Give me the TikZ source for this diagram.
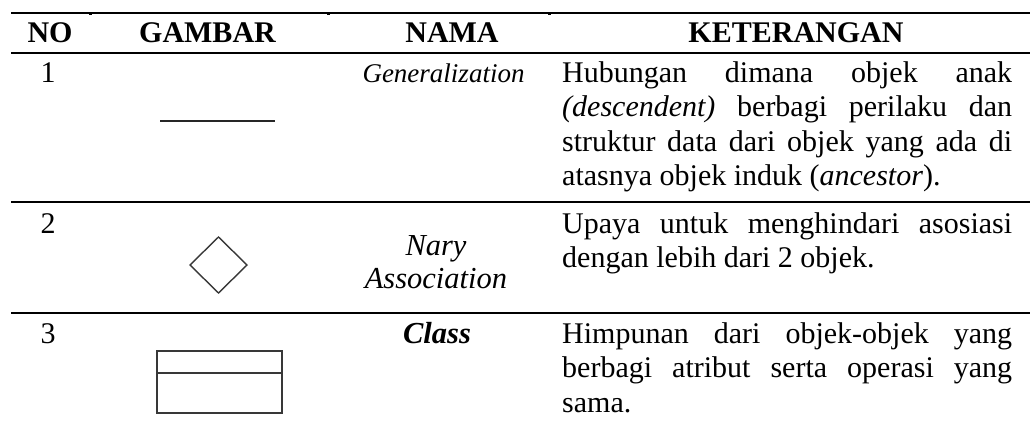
\documentclass[tikz,border=0pt]{standalone}
\usepackage{tikz}
\usepackage{fontspec}
\setmainfont{Liberation Serif}
% width of a justified description line
\newlength\jw
\setlength\jw{450pt}
\newcommand\jl[1]{\makebox[\jw][s]{#1}}
\tikzset{
  cell/.style={inner sep=0pt, font=\fontsize{30pt}{34.5pt}\selectfont, anchor=base},
  head/.style={cell, font=\fontsize{30pt}{34.5pt}\selectfont\bfseries},
  nmcell/.style={cell, font=\fontsize{30.5pt}{34.5pt}\selectfont\itshape},
  desc/.style={cell, anchor=base west, font=\fontsize{30pt}{34.5pt}\selectfont},
  rulel/.style={line width=2pt, black},
  sym/.style={draw=black!78, line width=1.4pt},
}
\begin{document}
\begin{tikzpicture}[x=1pt, y=-1pt]
\useasboundingbox (0,0) rectangle (1030,436);
\fill[white] (0,0) rectangle (1030,436);

% horizontal rules of the table
\draw[rulel] (11,13) -- (1030,13);
\draw[rulel] (11,53) -- (1030,53);
\draw[rulel] (11,202) -- (1030,202);
\draw[rulel] (11,313) -- (1030,313);
% small column marks under the top rule
\foreach \cx in {90,328,549} \fill (\cx-1.5,13) rectangle (\cx+1.5,15.5);

% header
\node[head] (hno) at (50,43) {NO};
\node[head] (hgb) at (207.5,43) {GAMBAR};
\node[head] (hnm) at (452,43) {NAMA};
\node[head] (hkt) at (796,43) {KETERANGAN};

% row 1: generalization
\node[cell] (n1) at (48,82) {1};
\draw[line width=1.6pt, black!85] (160,121) coordinate (g1) -- (275,121) coordinate (g2);
\node[nmcell, font=\fontsize{27pt}{34.5pt}\selectfont\itshape] (nm1) at (443.5,82) {Generalization};
\node[desc] (k1a) at (562,82) {\jl{Hubungan dimana objek anak}};
\node[desc] (k1b) at (562,116.5) {\jl{\textit{(descendent)} berbagi perilaku dan}};
\node[desc] (k1c) at (562,151) {\jl{struktur data dari objek yang ada di}};
\node[desc] (k1d) at (562,185.5) {atasnya objek induk (\textit{ancestor}).};

% row 2: n-ary association
\node[cell] (n2) at (48,233) {2};
\draw[sym] (218.5,237) coordinate (dT) -- (247,265) coordinate (dR)
  -- (218.5,293) coordinate (dB) -- (190,265) coordinate (dL) -- cycle;
\node[nmcell] (nm2a) at (436,255) {Nary};
\node[nmcell] (nm2b) at (436,288.5) {Association};
\node[desc] (k2a) at (562,233) {\jl{Upaya untuk menghindari asosiasi}};
\node[desc] (k2b) at (562,267.5) {dengan lebih dari 2 objek.};

% row 3: class
\node[cell] (n3) at (48,343) {3};
\draw[sym, line width=1.2pt] (157,351) rectangle (282,413);
\draw[sym, line width=1.2pt] (157,373) -- (282,373);
\node[nmcell, font=\fontsize{30.5pt}{34.5pt}\selectfont\bfseries\itshape] (nm3) at (437,343) {Class};
\node[desc] (k3a) at (562,343) {\jl{Himpunan dari objek-objek yang}};
\node[desc] (k3b) at (562,377.5) {\jl{berbagi atribut serta operasi yang}};
\node[desc] (k3c) at (562,412) {sama.};
\end{tikzpicture}
\end{document}
